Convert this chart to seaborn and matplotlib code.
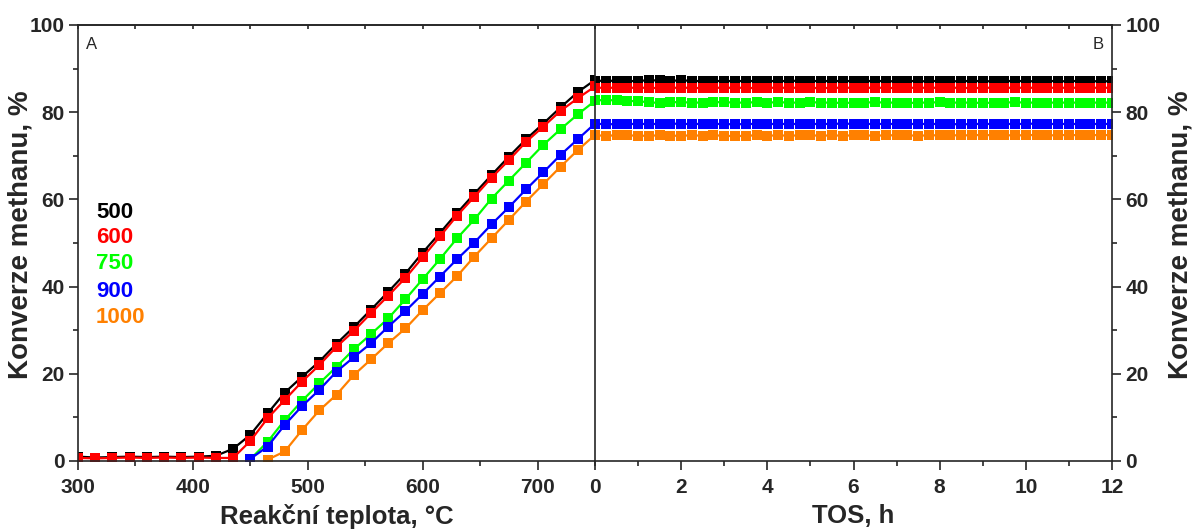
import numpy as np
import pandas as pd
import matplotlib
matplotlib.use("Agg")
import matplotlib.pyplot as plt
import seaborn as sns

# Panel A: temperature ramp
temps = [300, 315, 330, 345, 360, 375, 390, 405, 420, 435, 450, 465, 480, 495, 510, 525,
         540, 555, 570, 585, 600, 615, 630, 645, 660, 675, 690, 705, 720, 735, 750]
conv_500 = [1.0, 0.8, 0.9, 1.0, 0.9, 1.0, 0.9, 1.0, 1.2, 2.8, 6.0, 10.9, 15.7, 19.3, 22.8, 26.9,
            30.7, 34.7, 38.8, 43.0, 47.8, 52.3, 56.9, 61.3, 65.6, 69.8, 73.8, 77.4, 81.1, 84.6, 87.4]
conv_600 = [0.7, 0.6, 0.7, 0.8, 0.7, 0.8, 0.7, 0.8, 0.7, 0.7, 4.6, 9.8, 14.0, 18.2, 22.0, 26.2,
            29.8, 33.9, 37.9, 42.0, 46.7, 51.5, 56.3, 60.6, 65.0, 69.0, 73.2, 76.7, 80.3, 83.2, 85.9]
conv_750 = [None] * 10 + [0.4, 4.4, 9.4, 13.8, 17.8, 21.6,
            25.6, 29.1, 32.7, 37.1, 41.7, 46.3, 51.1, 55.4, 60.2, 64.3, 68.4, 72.5, 76.1, 79.5, 82.6]
conv_900 = [None] * 10 + [0.5, 3.3, 8.3, 12.6, 16.3, 20.5,
            23.8, 27.0, 30.8, 34.4, 38.3, 42.3, 46.3, 50.1, 54.3, 58.2, 62.3, 66.2, 70.2, 73.8, 77.4]
conv_1000 = [None] * 11 + [0.3, 2.2, 7.1, 11.6, 15.2,
             19.7, 23.3, 27.0, 30.4, 34.6, 38.5, 42.4, 46.9, 51.1, 55.3, 59.5, 63.5, 67.5, 71.3, 74.8]

# Panel B: time on stream
tos = [0, 0.25, 0.5, 0.75, 1, 1.25, 1.5, 1.75, 2, 2.25, 2.5, 2.75, 3, 3.25, 3.5, 3.75,
       4, 4.25, 4.5, 4.75, 5, 5.25, 5.5, 5.75, 6, 6.25, 6.5, 6.75, 7, 7.25, 7.5, 7.75,
       8, 8.25, 8.5, 8.75, 9, 9.25, 9.5, 9.75, 10, 10.25, 10.5, 10.75, 11, 11.25, 11.5, 11.75, 12]
tos_500 = [87.2, 87.2, 87.2, 87.1, 87.2, 87.3, 87.3, 87.2, 87.3, 87.2, 87.1, 87.2, 87.1, 87.2, 87.1, 87.2,
           87.2, 87.1, 87.2, 87.2, 87.1, 87.2, 87.1, 87.2, 87.1, 87.1, 87.2, 87.1, 87.1, 87.2, 87.1, 87.1,
           87.2, 87.1, 87.1, 87.2, 87.1, 87.1, 87.1, 87.2, 87.1, 87.1, 87.2, 87.1, 87.1, 87.2, 87.1, 87.1, 87.1]
tos_600 = [85.6, 85.6, 85.6, 85.6, 85.6, 85.6, 85.5, 85.6, 85.6, 85.6, 85.5, 85.6, 85.6, 85.6, 85.6, 85.5,
           85.6, 85.6, 85.6, 85.6, 85.6, 85.5, 85.6, 85.6, 85.6, 85.6, 85.6, 85.6, 85.5, 85.6, 85.6, 85.6,
           85.6, 85.6, 85.6, 85.5, 85.6, 85.6, 85.6, 85.6, 85.6, 85.6, 85.6, 85.6, 85.6, 85.6, 85.6, 85.6, 85.6]
tos_750 = [82.7, 82.8, 82.7, 82.6, 82.5, 82.3, 82.1, 82.3, 82.3, 82.2, 82.2, 82.3, 82.3, 82.2, 82.2, 82.3,
           82.2, 82.3, 82.2, 82.2, 82.3, 82.2, 82.2, 82.1, 82.2, 82.2, 82.3, 82.2, 82.2, 82.1, 82.2, 82.2,
           82.3, 82.2, 82.2, 82.2, 82.1, 82.2, 82.2, 82.3, 82.2, 82.2, 82.2, 82.2, 82.2, 82.2, 82.2, 82.2, 82.2]
tos_900 = [77.3, 77.3, 77.2, 77.3, 77.3, 77.3, 77.3, 77.4, 77.3, 77.3, 77.3, 77.3, 77.3, 77.2, 77.3, 77.3,
           77.3, 77.3, 77.3, 77.3, 77.3, 77.3, 77.3, 77.4, 77.3, 77.3, 77.3, 77.3, 77.3, 77.3, 77.3, 77.3,
           77.3, 77.3, 77.2, 77.3, 77.3, 77.3, 77.3, 77.3, 77.3, 77.4, 77.3, 77.3, 77.3, 77.3, 77.3, 77.3, 77.3]
tos_1000 = [74.7, 74.6, 74.7, 74.7, 74.6, 74.6, 74.7, 74.6, 74.6, 74.7, 74.6, 74.7, 74.6, 74.5, 74.6, 74.7,
            74.6, 74.7, 74.6, 74.7, 74.7, 74.6, 74.7, 74.6, 74.7, 74.7, 74.6, 74.7, 74.7, 74.7, 74.6, 74.7,
            74.7, 74.7, 74.7, 74.7, 74.8, 74.7, 74.7, 74.7, 74.7, 74.8, 74.7, 74.7, 74.8, 74.7, 74.7, 74.8, 74.7]

labels = ["500", "600", "750", "900", "1000"]
colors = ["#000000", "#ff0000", "#00ff00", "#0000ff", "#ff8000"]

# long-format tables for seaborn
rows_a = []
for lab, vals in zip(labels, [conv_500, conv_600, conv_750, conv_900, conv_1000]):
    for t, v in zip(temps, vals):
        if v is not None:
            rows_a.append((lab, t, v))
df_a = pd.DataFrame(rows_a, columns=["series", "temp", "conv"])

rows_b = []
for lab, vals in zip(labels, [tos_500, tos_600, tos_750, tos_900, tos_1000]):
    for t, v in zip(tos, vals):
        rows_b.append((lab, t, v))
df_b = pd.DataFrame(rows_b, columns=["series", "tos", "conv"])

sns.set_theme(style="ticks")
plt.rcParams["font.family"] = ["Liberation Sans", "DejaVu Sans"]
plt.rcParams["axes.linewidth"] = 1.2

fig = plt.figure(figsize=(11.92, 5.29), dpi=100)
W, H = 1192, 529
ax1 = fig.add_axes([78 / W, 1 - 461 / H, (595 - 78) / W, 436 / H])
ax2 = fig.add_axes([595 / W, 1 - 461 / H, (1112 - 595) / W, 436 / H])

palette = dict(zip(labels, colors))
line_kw = dict(marker="s", markersize=7.5, markeredgewidth=0, linewidth=1.6, legend=False)

sns.lineplot(data=df_a, x="temp", y="conv", hue="series", hue_order=labels,
             palette=palette, ax=ax1, **line_kw)
sns.lineplot(data=df_b, x="tos", y="conv", hue="series", hue_order=labels,
             palette=palette, ax=ax2, **line_kw)

tick_font = dict(fontsize=15, fontweight="bold")

# left panel
ax1.set_xlim(300, 750)
ax1.set_ylim(0, 100)
ax1.set_xticks([300, 400, 500, 600, 700])
ax1.set_xticks([350, 450, 550, 650, 750], minor=True)
ax1.set_yticks([0, 20, 40, 60, 80, 100])
ax1.set_yticks([10, 30, 50, 70, 90], minor=True)
ax1.set_xticklabels(["300", "400", "500", "600", "700"], **tick_font)
ax1.set_yticklabels(["0", "20", "40", "60", "80", "100"], **tick_font)
ax1.tick_params(axis="both", which="major", direction="out", length=6.5, width=1.2, pad=3)
ax1.tick_params(axis="both", which="minor", direction="out", length=3.5, width=1.2)
ax1.tick_params(axis="x", which="major", pad=6)
ax1.spines["right"].set_visible(False)
ax1.set_xlabel("Reakční teplota, °C", fontsize=18.5, fontweight="bold")
ax1.xaxis.set_label_coords(0.5, -0.098)
ax1.set_ylabel("Konverze methanu, %", fontsize=20, fontweight="bold")
ax1.yaxis.set_label_coords(-0.087, 0.52)
ax1.text(0.015, 0.955, "A", transform=ax1.transAxes, ha="left", va="center", fontsize=12)

top1 = ax1.secondary_xaxis("top")
top1.set_xticks([300, 400, 500, 600, 700])
top1.set_xticks([350, 450, 550, 650], minor=True)
top1.tick_params(which="both", direction="in", length=3, width=1.2, labeltop=False)

legend_y = [0.571, 0.513, 0.454, 0.388, 0.330]
for lab, col, yy in zip(labels, colors, legend_y):
    ax1.text(0.035, yy, lab, color=col, transform=ax1.transAxes, ha="left", va="center",
             fontsize=16, fontweight="bold")

# right panel
ax2.set_xlim(0, 12)
ax2.set_ylim(0, 100)
ax2.set_xticks([0, 2, 4, 6, 8, 10, 12])
ax2.set_xticks([1, 3, 5, 7, 9, 11], minor=True)
ax2.set_yticks([0, 20, 40, 60, 80, 100])
ax2.set_yticks([10, 30, 50, 70, 90], minor=True)
ax2.set_xticklabels(["0", "2", "4", "6", "8", "10", "12"], **tick_font)
ax2.set_yticklabels(["0", "20", "40", "60", "80", "100"], **tick_font)
ax2.yaxis.set_label_position("right")
ax2.tick_params(axis="y", which="both", left=False, right=True, labelleft=False, labelright=True)
ax2.tick_params(axis="both", which="major", direction="out", length=6.5, width=1.2, pad=3)
ax2.tick_params(axis="both", which="minor", direction="out", length=3.5, width=1.2)
ax2.tick_params(axis="x", which="major", pad=6)
ax2.set_xlabel("TOS, h", fontsize=18.5, fontweight="bold")
ax2.xaxis.set_label_coords(0.5, -0.098)
ax2.set_ylabel("Konverze methanu, %", fontsize=20, fontweight="bold", rotation=90)
ax2.yaxis.set_label_coords(1.108, 0.52)
ax2.text(0.973, 0.955, "B", transform=ax2.transAxes, ha="center", va="center", fontsize=12)

top2 = ax2.secondary_xaxis("top")
top2.set_xticks([0, 2, 4, 6, 8, 10, 12])
top2.set_xticks([1, 3, 5, 7, 9, 11], minor=True)
top2.tick_params(which="both", direction="in", length=3, width=1.2, labeltop=False)

fig.savefig("out.png", dpi=100)
